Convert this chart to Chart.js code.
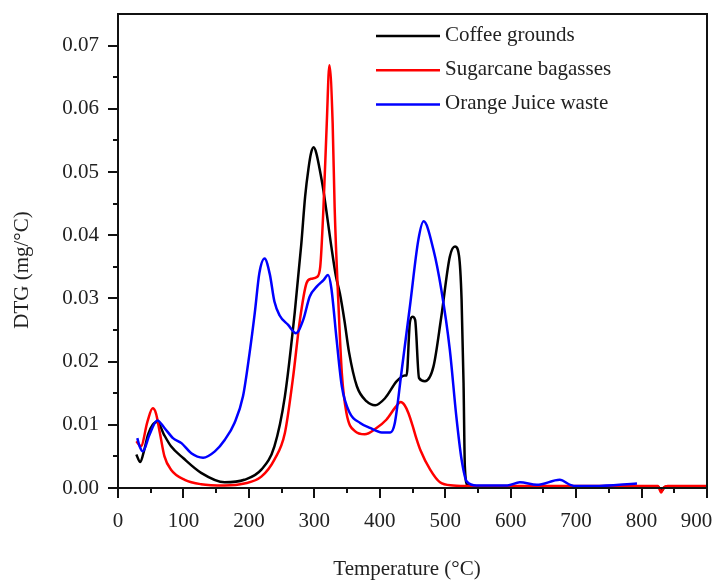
<!DOCTYPE html>
<html lang="en">
<head>
  <meta charset="UTF-8" />
  <title>DTG curves</title>
  <script src="https://cdn.jsdelivr.net/npm/chart.js"></script>
  <style>
    body { margin: 0; background: #fff; }
    #wrap { width: 718px; height: 581px; }
  </style>
</head>
<body>
  <div id="wrap"><canvas id="dtgChart" width="718" height="581"></canvas></div>

  <script>
    // series (temperature in °C, DTG in mg/°C)
    const seriesNames = ['Coffee grounds', 'Sugarcane bagasses', 'Orange Juice waste'];
    const seriesColors = ['#000000', '#ff0000', '#0000ff'];

    const coffeeTemp = [28, 34, 40, 46, 53, 60, 70, 81, 100, 127, 163, 193, 219, 239, 255, 270, 280, 286, 291, 295, 299, 303, 308, 314, 326, 333, 339, 346, 353, 365, 380, 393, 408, 426, 438, 441, 446, 450, 454, 460, 469, 482, 494, 507, 515, 521, 525, 528, 530, 534, 550, 700, 825, 831, 836, 900];
    const coffeeDtg = [0.0053, 0.0041, 0.0060, 0.0085, 0.0100, 0.0105, 0.0085, 0.0066, 0.0047, 0.0024, 0.0009, 0.0013, 0.0029, 0.0066, 0.0145, 0.0277, 0.0385, 0.0462, 0.0505, 0.0530, 0.0539, 0.0530, 0.0505, 0.0470, 0.0382, 0.0335, 0.0308, 0.0265, 0.0215, 0.0161, 0.0137, 0.0131, 0.0142, 0.0169, 0.0178, 0.0178, 0.0262, 0.0271, 0.0266, 0.0174, 0.0169, 0.0192, 0.0271, 0.0366, 0.0382, 0.0368, 0.0298, 0.0166, 0.0034, 0.0005, 0.0002, 0.0002, 0.0002, -0.0004, 0.0002, 0.0002];

    const sugarTemp = [28, 35, 45, 53, 58, 64, 71, 81, 102, 127, 163, 193, 219, 239, 255, 267, 278, 288, 295, 304, 309, 314, 319, 323, 328, 331, 337, 342, 349, 362, 377, 395, 410, 424, 432, 438, 444, 450, 456, 462, 477, 492, 512, 540, 825, 830, 834, 840, 900];
    const sugarDtg = [0.0074, 0.0066, 0.0105, 0.0126, 0.0118, 0.0087, 0.0050, 0.0029, 0.0013, 0.0006, 0.0004, 0.0007, 0.0018, 0.0045, 0.0087, 0.0171, 0.0266, 0.0324, 0.0331, 0.0334, 0.0350, 0.0445, 0.0577, 0.0669, 0.0577, 0.0445, 0.0287, 0.0182, 0.0119, 0.0090, 0.0085, 0.0095, 0.0108, 0.0128, 0.0136, 0.0131, 0.0118, 0.0099, 0.0078, 0.0060, 0.0029, 0.0009, 0.0004, 0.0003, 0.0003, -0.0007, 0.0001, 0.0003, 0.0003];

    const orangeTemp = [29.5, 33, 38, 48, 60, 71, 84, 97, 112, 130, 148, 163, 178, 191, 201, 209, 216, 224, 232, 239, 247, 260, 272, 283, 293, 304, 314, 321, 326, 334, 342, 354, 370, 385, 403, 416, 423, 433, 446, 459, 467, 482, 494, 507, 517, 525, 533, 548, 595, 614, 640, 675, 691, 701, 727, 793];
    const orangeDtg = [0.0079, 0.0066, 0.0058, 0.0084, 0.0107, 0.0095, 0.0079, 0.0071, 0.0055, 0.0048, 0.0058, 0.0076, 0.0103, 0.0145, 0.0213, 0.0277, 0.0340, 0.0363, 0.0338, 0.0295, 0.0273, 0.0258, 0.0245, 0.0266, 0.0303, 0.0319, 0.0329, 0.0337, 0.0316, 0.0235, 0.0161, 0.0119, 0.0103, 0.0095, 0.0088, 0.0088, 0.0103, 0.0182, 0.0287, 0.0393, 0.0422, 0.0377, 0.0314, 0.0219, 0.0113, 0.0045, 0.0010, 0.0004, 0.0004, 0.0009, 0.0005, 0.0013, 0.0005, 0.0003, 0.0003, 0.0007];

    const xTicks = [0, 100, 200, 300, 400, 500, 600, 700, 800, 900];
    const yTicks = [0, 0.01, 0.02, 0.03, 0.04, 0.05, 0.06, 0.07];

    const font = "'Liberation Serif', 'Times New Roman', serif";
    const textColor = '#222';

    function toPoints(xs, ys) {
      return xs.map((t, i) => ({ x: t, y: ys[i] }));
    }

    const allTemps = [coffeeTemp, sugarTemp, orangeTemp];
    const allDtg = [coffeeDtg, sugarDtg, orangeDtg];

    const datasets = seriesNames.map((name, i) => ({
      label: name,
      data: toPoints(allTemps[i], allDtg[i]),
      borderColor: seriesColors[i],
      borderWidth: 2.5,
      pointRadius: 0,
      fill: false,
      cubicInterpolationMode: 'monotone',
      clip: 10,
      order: 3 - i
    }));

    // frame, minor ticks, axis titles and the in-plot legend
    const framePlugin = {
      id: 'framePlugin',
      afterDatasetsDraw(chart) {
        const { ctx, chartArea: a, scales } = chart;
        const x = scales.x, y = scales.y;
        ctx.save();
        ctx.strokeStyle = '#111';
        ctx.lineWidth = 2;
        ctx.strokeRect(a.left, a.top, a.right - a.left, a.bottom - a.top);

        ctx.beginPath();
        for (let v = 0; v <= 900; v += 50) {
          const px = Math.round(x.getPixelForValue(v));
          const len = v % 100 === 0 ? 10 : 5;
          ctx.moveTo(px, a.bottom);
          ctx.lineTo(px, a.bottom + len);
        }
        for (let i = 0; i <= 14; i++) {
          const py = Math.round(y.getPixelForValue(i * 0.005));
          const len = i % 2 === 0 ? 10 : 5;
          ctx.moveTo(a.left, py);
          ctx.lineTo(a.left - len, py);
        }
        ctx.stroke();

        // legend
        ctx.font = '21px ' + font;
        ctx.textBaseline = 'middle';
        ctx.textAlign = 'left';
        chart.data.datasets.forEach((ds, i) => {
          const ly = a.top + 22 + i * 34.3;
          ctx.strokeStyle = ds.borderColor;
          ctx.lineWidth = 2.5;
          ctx.beginPath();
          ctx.moveTo(a.left + 258, ly);
          ctx.lineTo(a.left + 322, ly);
          ctx.stroke();
          ctx.fillStyle = textColor;
          ctx.fillText(ds.label, a.left + 327, ly - 1);
        });

        // axis titles
        ctx.fillStyle = textColor;
        ctx.textAlign = 'center';
        ctx.fillText('Temperature (°C)', 407, 569);
        ctx.translate(22, 270);
        ctx.rotate(-Math.PI / 2);
        ctx.fillText('DTG (mg/°C)', 0, 0);
        ctx.restore();
      }
    };

    const ctx = document.getElementById('dtgChart').getContext('2d');
    window.chart = new Chart(ctx, {
      type: 'line',
      data: { datasets: datasets },
      options: {
        responsive: false,
        animation: false,
        devicePixelRatio: 1,
        layout: { padding: { top: 14, right: 11, left: 0, bottom: 0 } },
        plugins: {
          legend: { display: false },
          tooltip: { enabled: false }
        },
        scales: {
          x: {
            type: 'linear',
            min: 0,
            max: 900,
            grid: { display: false, drawTicks: false },
            border: { display: false },
            afterBuildTicks: s => { s.ticks = xTicks.map(v => ({ value: v })); },
            afterFit: s => { s.height = 93; s.paddingLeft = 0; s.paddingRight = 0; },
            ticks: {
              padding: 21,
              maxRotation: 0,
              color: textColor,
              font: { family: font, size: 21 },
              callback: v => v === 900 ? '900\u2002\u2002' : String(v)
            }
          },
          y: {
            min: 0,
            max: 0.075,
            grid: { display: false, drawTicks: false },
            border: { display: false },
            afterBuildTicks: s => { s.ticks = yTicks.map(v => ({ value: v })); },
            afterFit: s => { s.width = 118; s.paddingTop = 0; s.paddingBottom = 0; },
            ticks: {
              padding: 19,
              color: textColor,
              font: { family: font, size: 21 },
              callback: v => v.toFixed(2)
            }
          }
        }
      },
      plugins: [framePlugin]
    });
  </script>
</body>
</html>
